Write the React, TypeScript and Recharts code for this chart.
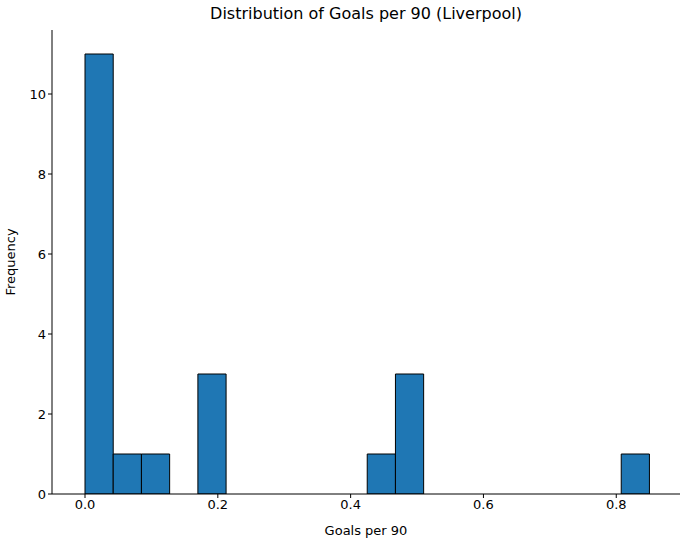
import { ComposedChart, Bar, XAxis, YAxis, Label } from "recharts"

const binWidth = 0.0425
const counts = [11, 1, 1, 0, 3, 0, 0, 0, 0, 0, 1, 3, 0, 0, 0, 0, 0, 0, 0, 1]
const xTicks = [0, 0.2, 0.4, 0.6, 0.8]
const yTicks = [0, 2, 4, 6, 8, 10]

const data = counts.map((c, i) => ({ x: (i + 0.5) * binWidth, count: c }))

const font = { fontFamily: "DejaVu Sans", fontSize: 13, fill: "#000" }

export default function App() {
  return (
    <div style={{ position: "absolute", left: 0, top: 0, width: 686, height: 547, background: "#fff", fontFamily: "DejaVu Sans" }}>
      <div style={{ position: "absolute", left: 52, width: 628, top: 4, textAlign: "center", fontSize: 16 }}>
        Distribution of Goals per 90 (Liverpool)
      </div>
      <ComposedChart width={686} height={547} data={data} margin={{ top: 30, right: 6, left: 0, bottom: 0 }}>
        <XAxis
          xAxisId="b"
          dataKey="x"
          type="number"
          domain={[-0.0497, 0.896]}
          ticks={xTicks}
          tickFormatter={(v) => v.toFixed(1)}
          tick={font}
          stroke="#000"
          tickSize={4}
          height={53}
          allowDataOverflow
        >
          <Label value="Goals per 90" position="insideBottom" offset={12} style={font} />
        </XAxis>
        <XAxis xAxisId="t" orientation="top" type="number" domain={[0, 1]} tick={false} tickLine={false} stroke="#000" height={0} />
        <YAxis
          yAxisId="l"
          type="number"
          domain={[0, 11.6]}
          ticks={yTicks}
          tick={font}
          stroke="#000"
          tickSize={4}
          width={52}
          allowDataOverflow
        >
          <Label value="Frequency" angle={-90} position="insideLeft" offset={10} style={{ ...font, textAnchor: "middle" }} />
        </YAxis>
        <YAxis yAxisId="r" orientation="right" type="number" domain={[0, 1]} tick={false} tickLine={false} stroke="#000" width={0} />
        <Bar
          xAxisId="b"
          yAxisId="l"
          dataKey="count"
          fill="#1f77b4"
          stroke="#000"
          strokeWidth={1}
          barSize={28.2}
          isAnimationActive={false}
        />
      </ComposedChart>
    </div>
  )
}
